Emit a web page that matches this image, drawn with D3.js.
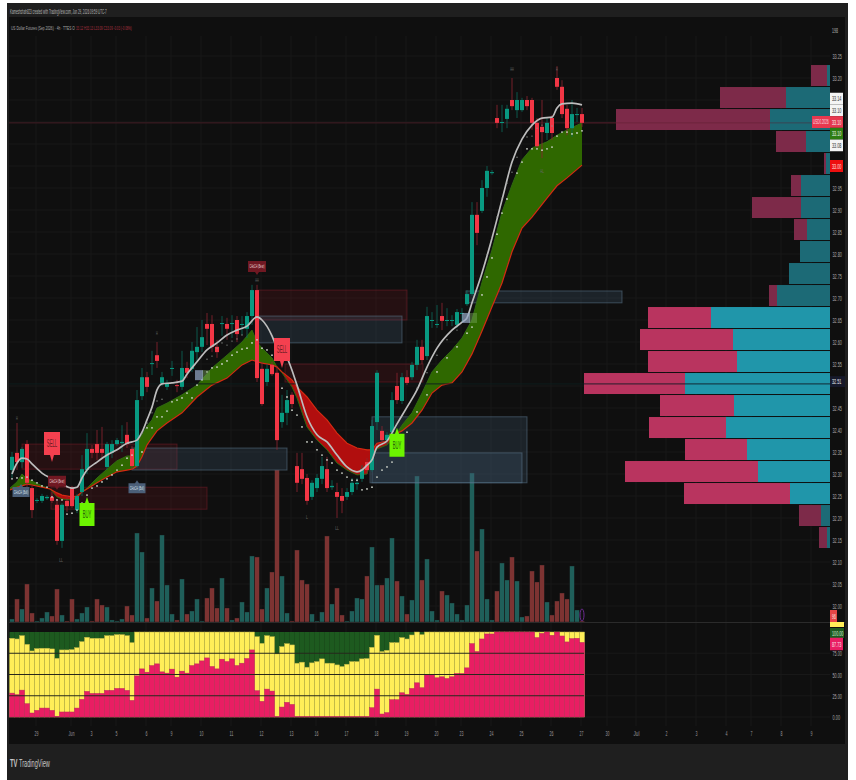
<!DOCTYPE html>
<html>
<head>
<meta charset="utf-8">
<script src="https://cdn.jsdelivr.net/npm/d3@7"></script>
<style>
  html, body { margin: 0; padding: 0; background: #fff; }
  svg { display: block; }
  text { font-family: "Liberation Sans", Arial, sans-serif; }
</style>
</head>
<body>
<div class="chart"></div>
<script>
// candles (one per 4h bar)
const opens = [32.309,32.348,32.327,32.368,32.268,32.239,32.239,32.245,32.248,32.230,
  32.148,32.239,32.268,32.218,32.259,32.309,32.357,32.368,32.357,32.316,
  32.348,32.368,32.370,32.389,32.357,32.318,32.477,32.520,32.550,32.570,
  32.507,32.498,32.539,32.502,32.498,32.541,32.539,32.577,32.589,32.641,
  32.641,32.589,32.641,32.641,32.641,32.650,32.639,32.630,32.659,32.718,
  32.539,32.509,32.548,32.530,32.418,32.439,32.480,32.318,32.311,32.291,
  32.248,32.268,32.289,32.311,32.270,32.259,32.250,32.248,32.259,32.277,
  32.289,32.327,32.309,32.418,32.398,32.377,32.395,32.500,32.466,32.520,
  32.520,32.548,32.589,32.568,32.648,32.639,32.659,32.648,32.648,32.639,
  32.664,32.686,32.709,32.889,32.898,32.950,32.984,33.109,33.098,33.107,
  33.150,33.127,33.127,33.150,33.150,33.098,33.089,33.075,33.109,33.200,
  33.180,33.130,33.086,33.116,33.118];
const highs = [32.350,32.416,32.361,32.377,32.273,32.245,32.255,32.252,32.259,32.241,
  32.234,32.250,32.273,32.255,32.343,32.393,32.366,32.400,32.407,32.373,
  32.377,32.382,32.411,32.418,32.364,32.491,32.541,32.532,32.580,32.600,
  32.532,32.514,32.557,32.514,32.580,32.555,32.600,32.634,32.650,32.666,
  32.661,32.605,32.659,32.655,32.661,32.659,32.659,32.668,32.730,32.730,
  32.555,32.550,32.555,32.545,32.480,32.491,32.486,32.348,32.348,32.300,
  32.286,32.300,32.339,32.339,32.286,32.280,32.268,32.268,32.291,32.291,
  32.320,32.336,32.423,32.536,32.409,32.395,32.486,32.530,32.530,32.536,
  32.555,32.605,32.605,32.680,32.668,32.684,32.689,32.677,32.661,32.675,
  32.677,32.718,32.918,32.918,32.968,33.000,32.991,33.139,33.139,33.139,
  33.200,33.168,33.155,33.159,33.155,33.109,33.150,33.109,33.116,33.227,
  33.195,33.139,33.150,33.132,33.132];
const lows = [32.291,32.309,32.314,32.264,32.200,32.234,32.234,32.241,32.234,32.139,
  32.132,32.214,32.223,32.211,32.250,32.300,32.336,32.332,32.336,32.309,
  32.336,32.364,32.350,32.359,32.309,32.314,32.468,32.486,32.525,32.541,
  32.500,32.491,32.523,32.486,32.491,32.518,32.532,32.555,32.577,32.593,
  32.577,32.564,32.614,32.605,32.609,32.600,32.616,32.609,32.639,32.509,
  32.455,32.500,32.523,32.355,32.405,32.411,32.450,32.259,32.277,32.230,
  32.241,32.259,32.277,32.259,32.264,32.200,32.211,32.241,32.252,32.264,
  32.282,32.300,32.305,32.400,32.370,32.368,32.386,32.459,32.459,32.502,
  32.514,32.536,32.550,32.559,32.632,32.632,32.627,32.636,32.636,32.632,
  32.645,32.682,32.705,32.820,32.893,32.930,32.980,33.086,33.077,33.086,
  33.127,33.109,33.123,33.127,33.082,33.041,33.018,33.059,33.059,33.173,
  33.109,33.070,33.066,33.100,33.089];
const closes = [32.339,32.327,32.357,32.280,32.218,32.241,32.250,32.248,32.239,32.148,
  32.230,32.227,32.227,32.250,32.311,32.357,32.348,32.348,32.348,32.368,
  32.368,32.377,32.373,32.368,32.318,32.468,32.520,32.498,32.552,32.557,
  32.520,32.507,32.541,32.500,32.541,32.530,32.580,32.589,32.611,32.630,
  32.589,32.577,32.643,32.630,32.643,32.618,32.641,32.659,32.718,32.518,
  32.459,32.539,32.527,32.377,32.439,32.468,32.459,32.280,32.289,32.239,
  32.280,32.291,32.318,32.268,32.273,32.248,32.239,32.259,32.280,32.280,
  32.311,32.309,32.409,32.530,32.377,32.389,32.468,32.468,32.520,32.507,
  32.548,32.589,32.559,32.659,32.650,32.641,32.648,32.650,32.650,32.668,
  32.666,32.709,32.889,32.848,32.950,32.989,32.986,33.098,33.100,33.130,
  33.136,33.150,33.150,33.136,33.098,33.045,33.077,33.098,33.075,33.180,
  33.118,33.086,33.118,33.118,33.098];
const volumes = [3,23,13,38,9,1,4,10,6,33,7,1,23,3,9,15,1,23,17,15,2,1,3,16,7,89,70,4,34,21,87,37,8,2,43,8,11,23,1,24,
  34,14,44,14,2,4,20,10,66,65,13,34,50,152,46,9,1,72,42,38,8,1,10,86,18,34,7,1,11,24,23,46,75,37,37,44,84,41,26,8,
  22,146,42,63,11,2,31,27,19,8,2,17,149,71,93,23,2,31,59,42,65,41,5,6,51,40,57,20,7,21,29,23,56,12,1];

// white moving average, read at the bars where it bends
const maIdx = [0,1,2,3,4,6,8,10,12,13,14,15,17,19,21,23,24,25,26,27,28,29,30,32,34,35,37,39,41,43,45,47,49,50,52,53,55,57,59,61,63,65,67,69,70,71,72,73,75,77,79,81,83,85,88,90,91,92,94,96,98,100,102,104,106,108,109,110,112,114];
const maVal = [32.300,32.325,32.336,32.334,32.323,32.302,32.289,32.277,32.268,32.270,32.291,32.309,32.327,32.343,32.355,32.370,32.373,32.377,32.395,32.423,32.452,32.491,32.505,32.507,32.511,32.527,32.555,32.582,32.598,32.616,32.627,32.636,32.657,32.650,32.614,32.586,32.564,32.502,32.430,32.389,32.373,32.343,32.316,32.305,32.309,32.320,32.332,32.361,32.375,32.414,32.452,32.491,32.543,32.586,32.627,32.645,32.655,32.689,32.757,32.836,32.923,33.009,33.061,33.093,33.109,33.111,33.132,33.141,33.143,33.139];

// ribbon: fast and slow edge at the same bars
const ribbonIdx = [-0.4,1,2,3,4,6,7.6,9,10,12,13,14,15,17,19,21,23,24,25,26,27,28,29,31,34,37,40,43,46,48,49,50,52,53,54,56,57,59,61,63,65,67,69,71,72,73,75,77,78,80,82,84,86,88,90,92,94,96,98,100,102,104,107,109,111,114];
const ribbonFast = [32.268,32.282,32.300,32.289,32.284,32.273,32.266,32.248,32.243,32.241,32.245,32.259,32.268,32.291,32.311,32.330,32.341,32.341,32.370,32.389,32.409,32.423,32.450,32.461,32.480,32.502,32.541,32.570,32.600,32.627,32.600,32.586,32.564,32.543,32.530,32.498,32.473,32.407,32.377,32.355,32.325,32.309,32.298,32.300,32.339,32.357,32.366,32.393,32.411,32.439,32.484,32.532,32.559,32.582,32.609,32.650,32.736,32.809,32.895,32.957,33.014,33.041,33.055,33.070,33.082,33.098];
const ribbonSlow = [32.264,32.270,32.273,32.277,32.275,32.270,32.266,32.257,32.252,32.248,32.250,32.259,32.266,32.280,32.293,32.305,32.309,32.311,32.318,32.339,32.366,32.382,32.398,32.416,32.439,32.475,32.502,32.518,32.548,32.559,32.555,32.552,32.548,32.543,32.532,32.514,32.498,32.475,32.445,32.423,32.393,32.370,32.359,32.355,32.355,32.370,32.375,32.393,32.398,32.416,32.445,32.484,32.502,32.507,32.532,32.573,32.625,32.680,32.734,32.805,32.859,32.884,32.927,32.955,32.973,33.002];

// small dots
const dotIdx = [0,1,2,3,4,5,6,7,8,9,10,11,12,13,14,15,16,17,18,19,20,21,22,23,24,26,27,28,29,30,31,32,33,34,35,36,37,38,39,40,41,42,43,44,45,46,47,48,49,50,51,52,53,54,55,56,57,58,59,60,61,62,63,64,65,66,67,68,69,70,71,72,73,74,75,76,79,81,83,85,87,89,91,92,94,95,96,97,98,99,101,102,103,104,105,106,107,108,109,110,111,112,113,114];
const dotVal = [32.289,32.291,32.291,32.293,32.286,32.280,32.273,32.270,32.248,32.241,32.241,32.209,32.211,32.218,32.234,32.252,32.268,32.273,32.282,32.289,32.298,32.309,32.320,32.336,32.343,32.350,32.405,32.405,32.430,32.430,32.443,32.464,32.468,32.473,32.484,32.473,32.502,32.514,32.532,32.541,32.543,32.550,32.557,32.570,32.577,32.584,32.586,32.598,32.605,32.586,32.582,32.570,32.559,32.495,32.475,32.445,32.434,32.407,32.373,32.373,32.355,32.343,32.332,32.325,32.309,32.302,32.293,32.286,32.286,32.264,32.266,32.270,32.293,32.309,32.316,32.327,32.395,32.441,32.480,32.532,32.564,32.589,32.620,32.634,32.707,32.748,32.791,32.845,32.893,32.925,32.984,33.009,33.039,33.039,33.039,33.036,33.039,33.043,33.068,33.077,33.077,33.073,33.075,33.080];
const dimDotIdx = [26,27,28,29,30,39,40,41,42,43,44,45,46,81,83,85,87,89,91,95,96,97,98,99,100,101,103,104,105,106,108];
const dimDotVal = [32.393,32.416,32.439,32.466,32.470,32.561,32.568,32.586,32.598,32.593,32.602,32.607,32.616,32.495,32.530,32.570,32.605,32.627,32.655,32.798,32.836,32.884,32.927,32.961,32.986,33.020,33.066,33.068,33.086,33.093,33.091];

// supply / demand zones [from bar, to bar, top price, bottom price]
const redZones = [[2,33,32.368,32.311],[7.8,39,32.270,32.220],[49.2,79,32.718,32.650],[54.6,82.2,32.550,32.509]];
const blueZones = [[24,55,32.359,32.309],[49.2,78,32.659,32.598],[90.8,122,32.716,32.689],[72,103,32.430,32.280],[71.6,102,32.348,32.280]];

// signals [bar, price at the tip]
const sellSignals = [[8,32.327],[54,32.541]];
const buySignals = [[15,32.248],[77,32.405]];
const bearTags = [[9,32.264],[49,32.752]];
const bullTags = [[1.8,32.277],[25,32.286]];
const fadedTags = [[37.4,32.536],[90.8,32.666]];
const pivotLabels = [[1,32.427,'H'],[9.8,32.105,'LL'],[29,32.620,'H'],[49,32.741,'HH'],[59,32.202,'L'],[65,32.177,'LL'],[100,33.220,'HH'],[109,33.220,'H'],[106,32.989,'HL']];

// volume profile rows, top to bottom
const profileUp = [3,44,60,24,4,29,29,23,30,41,53,119,97,93,145,96,104,83,72,40,9,3];
const profileDown = [16,66,154,30,2,10,49,13,0,0,8,63,93,89,101,74,77,62,133,106,22,8];
const profileBright = [11,12,13,14,15,16,17,18,19];

// lower pane, percent
const yellowTop = [92.6,91.8,95.7,85.5,77.7,80.5,80.9,80.9,80.1,69.1,78.9,78.9,79.3,81.6,88.7,93.8,92.6,92.6,92.6,95.7,95.7,96.9,96.9,95.7,87.5,
  100,100,100,100,100,100,100,100,100,100,100,100,100,100,100,100,100,100,100,100,100,100,100,100,
  94.5,86.7,95.7,94.5,74.2,82.8,86.3,84.8,63.3,
  64.5,58.6,63.7,65.2,68.4,63.3,63.3,61.3,59.4,62.1,65.2,65.2,68.4,68.8,
  82,96.1,77,78.5,87.5,87.5,93.4,91.8,96.5,100,96.9,
  100,100,100,100,100,100,100,100,100,100,100,100,100,100,100,100,100,100,100,100,100,100,100,100,100,100,100,100,100,100,100,100];
const pinkTop = [28.1,26.2,31.6,15.6,4.7,7.8,10.5,10.5,7.8,0.8,5.9,5.9,5.9,10.5,20.7,30.1,27.7,27.7,27.7,31.3,31.3,33.6,33.6,31.3,19.5,
  48.4,56.6,52.7,60.5,62.5,53.1,51.6,56.3,46.9,53.9,51.6,60.5,62.5,66,69.5,59.4,56.6,68,65.2,68.4,60.5,63.3,68.8,78.9,
  30.9,18.4,32.8,30.5,0.4,11.7,17.2,14.8,0.4,
  0.4,0.4,0.4,0.4,0.4,0.4,0.4,0.4,0.4,0.4,0.4,0.4,0.4,0.4,
  10.9,32.8,3.5,5.1,20.3,20.3,28.5,26.6,33.6,40.2,34.4,50,50,46.1,47.3,45.3,47.3,51.2,51.2,57.8,86.3,77,91.8,97.7,97.7,
  100,100,100,100,100,100,100,100,93.4,98.4,100,96.1,100,95.3,88.3,92.2,92.6,87.7];

// axis labels
const priceTicks = [33.25,33.20,32.95,32.90,32.85,32.80,32.75,32.70,32.65,32.60,32.55,32.45,32.40,32.35,32.30,32.25,32.20,32.15,32.10,32.05,32.00];
const percentTicks = [75,50,25,0];
const timeTickIdx = [4.8,11.8,15.8,20.8,26.8,31.8,37.8,43.8,49.8,55.8,60.8,66.8,72.8,78.8,84.8,89.8,95.8,101.8,107.8,113.8,119,124.8,130.8,136.8,142.8,147.8,153.8,159.8];
const timeTickLabels = ['29','Jun','3','5','6','9','10','11','12','13','16','17','18','19','20','23','24','25','26','27','30','Jul','2','3','4','7','8','9'];
const priceStack = ['33.14','33.10','33.10','33.10','33.08'];
const priceStackColors = ['#f4f4f4','#f4f4f4','#e8384f','#2e7d12','#f4f4f4'];

const upColor = '#089981', downColor = '#f23645';

const svg = d3.select('.chart').append('svg').attr('width', 856).attr('height', 780);

// frame
svg.append('rect').attr('x', 7).attr('y', 3).attr('width', 841).attr('height', 777).attr('fill', '#1f1f1f');
svg.append('rect').attr('x', 9).attr('y', 17).attr('width', 836).attr('height', 727).attr('fill', '#0f0f0f');

const xBar = d3.scaleLinear().domain([0, 114]).range([12, 582]);
const yPrice = d3.scaleLinear().domain([32, 33.2]).range([606, 78]);
const yVol = d3.scaleLinear().domain([0, 155]).range([622, 467]);
const yPct = d3.scaleLinear().domain([0, 100]).range([717, 632]);
const xProfile = d3.scaleLinear().domain([0, 246]).range([830, 584]);

// the reference is squeezed sideways, so labels are scaled to a forced width
function fit(sel, width) {
  sel.each(function() {
    const natural = this.getComputedTextLength();
    const k = (typeof width === 'function' ? width(this) : width) / natural;
    const x = +this.getAttribute('x') || 0;
    this.setAttribute('transform', `translate(${x},0) scale(${k},1) translate(${-x},0)`);
  });
}
function squeeze(sel, perChar) {
  fit(sel, el => el.textContent.length * perChar);
}

svg.append('clipPath').attr('id', 'pane').append('rect')
  .attr('x', 9).attr('y', 17).attr('width', 821).attr('height', 605);

// grid
const grid = svg.append('g').attr('stroke', '#181818').attr('stroke-width', 1);
grid.selectAll('.gv').data(timeTickIdx).enter().append('line')
  .attr('x1', d => xBar(d)).attr('x2', d => xBar(d)).attr('y1', 36).attr('y2', 726);
grid.selectAll('.gh').data(priceTicks.concat([33.15,33.10,33.05,33.00,32.50])).enter().append('line')
  .attr('x1', 9).attr('x2', 830).attr('y1', d => yPrice(d)).attr('y2', d => yPrice(d));
grid.selectAll('.gp').data(percentTicks).enter().append('line')
  .attr('x1', 584).attr('x2', 830).attr('y1', d => yPct(d)).attr('y2', d => yPct(d));

const pane = svg.append('g').attr('clip-path', 'url(#pane)');

// volume
pane.selectAll('.vol').data(volumes).enter().append('rect')
  .attr('x', (d, i) => xBar(i) - 2.3)
  .attr('width', 4.6)
  .attr('y', d => yVol(d))
  .attr('height', d => yVol(0) - yVol(d))
  .attr('fill', (d, i) => closes[i] >= opens[i] ? '#1f5f5a' : '#7d3332')
  .attr('stroke', '#1a1a1a').attr('stroke-width', 0.4);

// zones
function drawZones(zones, fill, stroke) {
  pane.selectAll(null).data(zones).enter().append('rect')
    .attr('x', d => xBar(d[0]))
    .attr('width', d => xBar(d[1]) - xBar(d[0]))
    .attr('y', d => yPrice(d[2]))
    .attr('height', d => yPrice(d[3]) - yPrice(d[2]))
    .attr('fill', fill).attr('stroke', stroke).attr('stroke-width', 1);
}
drawZones(redZones, 'rgba(120,22,34,0.22)', 'rgba(135,32,45,0.45)');
drawZones(blueZones, 'rgba(70,100,125,0.24)', 'rgba(95,125,150,0.5)');

// last price line
pane.append('line').attr('x1', 9).attr('x2', 830)
  .attr('y1', yPrice(33.098)).attr('y2', yPrice(33.098))
  .attr('stroke', '#431c24').attr('stroke-width', 1);

// ribbon: one area per stretch between two crossings
const ribbonRows = ribbonIdx.map((d, i) => ({i: d, fast: ribbonFast[i], slow: ribbonSlow[i]}));
const runs = [];
let run = [];
ribbonRows.forEach((d) => {
  run.push(d);
  if (d.fast === d.slow && run.length > 1) {
    runs.push(run);
    run = [d];
  }
});
runs.push(run);
const ribbonArea = d3.area().x(d => xBar(d.i)).y0(d => yPrice(d.slow)).y1(d => yPrice(d.fast));
pane.selectAll('.ribbon').data(runs).enter().append('path')
  .attr('d', ribbonArea)
  .attr('fill', d => {
    const m = d[Math.floor(d.length / 2)];
    return m.fast >= m.slow ? '#2f6800' : '#b10e0e';
  });
const edge = d3.line().x(d => xBar(d.i));
pane.append('path').attr('d', edge.y(d => yPrice(d.fast))(ribbonRows))
  .attr('fill', 'none').attr('stroke', '#2f6a10').attr('stroke-width', 1);
pane.append('path').attr('d', edge.y(d => yPrice(d.slow))(ribbonRows))
  .attr('fill', 'none').attr('stroke', '#d42a12').attr('stroke-width', 1.2);

// point of control, only shows over the marks
pane.append('line').attr('x1', 9).attr('x2', 830)
  .attr('y1', yPrice(32.505)).attr('y2', yPrice(32.505))
  .attr('stroke', 'rgba(14,30,30,0.75)').attr('stroke-width', 1.2);

// candles
pane.selectAll('.wick').data(opens).enter().append('line')
  .attr('x1', (d, i) => xBar(i)).attr('x2', (d, i) => xBar(i))
  .attr('y1', (d, i) => yPrice(highs[i])).attr('y2', (d, i) => yPrice(lows[i]))
  .attr('stroke', (d, i) => closes[i] >= opens[i] ? '#0a6a5c' : '#8f2530')
  .attr('stroke-width', 0.8);
pane.selectAll('.body').data(opens).enter().append('rect')
  .attr('x', (d, i) => xBar(i) - 2)
  .attr('width', 4)
  .attr('y', (d, i) => yPrice(Math.max(opens[i], closes[i])))
  .attr('height', (d, i) => Math.max(1, Math.abs(yPrice(opens[i]) - yPrice(closes[i]))))
  .attr('fill', (d, i) => closes[i] >= opens[i] ? upColor : downColor);

// moving average and dots
const maLine = d3.line().x(d => xBar(d[0])).y(d => yPrice(d[1])).curve(d3.curveMonotoneX);
pane.append('path').attr('d', maLine(maIdx.map((d, i) => [d, maVal[i]])))
  .attr('fill', 'none').attr('stroke', '#bdbdbd').attr('stroke-width', 1.7);
pane.selectAll('.dot').data(dotIdx).enter().append('circle')
  .attr('cx', d => xBar(d)).attr('cy', (d, i) => yPrice(dotVal[i])).attr('r', 0.9)
  .attr('fill', '#cfd4cb');
pane.selectAll('.dim').data(dimDotIdx).enter().append('circle')
  .attr('cx', d => xBar(d)).attr('cy', (d, i) => yPrice(dimDotVal[i])).attr('r', 0.7)
  .attr('fill', '#8f948f');

// labels on the chart
function calloutDown(list, w, h, gap, fill, label, textFill, fs, perChar) {
  list.forEach(d => {
    const x = xBar(d[0]), tip = yPrice(d[1]);
    const g = svg.append('g');
    g.append('path').attr('fill', fill)
      .attr('d', `M${x-w/2},${tip-gap-h}h${w}v${h}h${-w/2+2}l-2,${gap}l-2,${-gap}h${-w/2+2}z`);
    g.append('text').attr('x', x).attr('y', tip - gap - h / 2 + fs * 0.35)
      .attr('text-anchor', 'middle').attr('font-size', fs).attr('fill', textFill).text(label)
      .call(squeeze, perChar);
  });
}
function calloutUp(list, w, h, gap, fill, label, textFill, fs, perChar) {
  list.forEach(d => {
    const x = xBar(d[0]), tip = yPrice(d[1]);
    const g = svg.append('g');
    g.append('path').attr('fill', fill)
      .attr('d', `M${x-w/2},${tip+gap}h${w/2-2}l2,${-gap}l2,${gap}h${w/2-2}v${h}h${-w}z`);
    g.append('text').attr('x', x).attr('y', tip + gap + h / 2 + fs * 0.35)
      .attr('text-anchor', 'middle').attr('font-size', fs).attr('fill', textFill).text(label)
      .call(squeeze, perChar);
  });
}
calloutDown(sellSignals, 16, 23, 7, '#f4404f', 'SELL', '#6d1c24', 11, 2.6);
calloutUp(buySignals, 15, 23, 6, '#6cf400', 'BUY', '#24580a', 11, 2.8);
calloutDown(bearTags, 18, 11, 3, '#701822', 'CHoCH (Bear)', '#e8d8d8', 5, 1.25);
calloutUp(bullTags, 17, 10, 3, '#4b5f78', 'CHoCH (Bull)', '#dde3ea', 5, 1.2);

fadedTags.forEach(d => {
  const x = xBar(d[0]), y = yPrice(d[1]);
  svg.append('rect').attr('x', x + 3).attr('y', y).attr('width', 8).attr('height', 10).attr('fill', 'rgba(120,165,90,0.45)');
  svg.append('rect').attr('x', x - 4).attr('y', y).attr('width', 8).attr('height', 10).attr('fill', 'rgba(150,170,200,0.7)');
});

svg.selectAll('.pivot').data(pivotLabels).enter().append('text')
  .attr('x', d => xBar(d[0])).attr('y', d => yPrice(d[1]) + 2)
  .attr('text-anchor', 'middle').attr('font-size', 5).attr('fill', '#666')
  .text(d => d[2]).call(squeeze, 1.8);

// purple session mark
svg.append('ellipse').attr('cx', 582).attr('cy', 615).attr('rx', 2).attr('ry', 6)
  .attr('fill', 'none').attr('stroke', '#6b2b8f').attr('stroke-width', 1);

// volume profile
const rowStep = 0.05, rowTop = 33.2295;
const rowY = i => yPrice(rowTop - rowStep * i);
const rowH = yPrice(0) - yPrice(rowStep);
const prof = svg.append('g');
prof.selectAll('.up').data(profileUp).enter().append('rect')
  .attr('x', d => xProfile(d))
  .attr('width', d => xProfile(0) - xProfile(d))
  .attr('y', (d, i) => rowY(i))
  .attr('height', rowH - 1)
  .attr('fill', (d, i) => profileBright.includes(i) ? '#2096aa' : '#1c6a76');
prof.selectAll('.down').data(profileDown).enter().append('rect')
  .attr('x', (d, i) => xProfile(d + profileUp[i]))
  .attr('width', (d, i) => xProfile(profileUp[i]) - xProfile(d + profileUp[i]))
  .attr('y', (d, i) => rowY(i))
  .attr('height', rowH - 1)
  .attr('fill', (d, i) => profileBright.includes(i) ? '#b9345f' : '#7d2a49');
prof.append('line').attr('x1', xProfile(246)).attr('x2', 830)
  .attr('y1', yPrice(32.505)).attr('y2', yPrice(32.505))
  .attr('stroke', 'rgba(15,25,35,0.7)').attr('stroke-width', 1.2);
prof.append('line').attr('x1', 584).attr('x2', 830)
  .attr('y1', yPrice(33.098)).attr('y2', yPrice(33.098))
  .attr('stroke', 'rgba(90,30,45,0.6)').attr('stroke-width', 0.8);

// pane divider
svg.append('line').attr('x1', 9).attr('x2', 845).attr('y1', 622.5).attr('y2', 622.5)
  .attr('stroke', '#2b2b2b').attr('stroke-width', 1);

// lower pane: green behind, then yellow, then pink
const lower = svg.append('g');
lower.selectAll('.gr').data(yellowTop).enter().append('rect')
  .attr('x', (d, i) => xBar(i) - 2.5).attr('width', 5.2)
  .attr('y', yPct(100)).attr('height', d => yPct(0) - yPct(100))
  .attr('fill', '#1d5a1f');
lower.selectAll('.ye').data(yellowTop).enter().append('rect')
  .attr('x', (d, i) => xBar(i) - 2.5).attr('width', 5)
  .attr('y', d => yPct(d)).attr('height', d => yPct(0) - yPct(d))
  .attr('fill', '#ffee58').attr('stroke', '#b5ab45').attr('stroke-width', 0.5);
lower.selectAll('.pi').data(pinkTop).enter().append('rect')
  .attr('x', (d, i) => xBar(i) - 2.5).attr('width', 5)
  .attr('y', d => yPct(d)).attr('height', d => yPct(0) - yPct(d))
  .attr('fill', '#e91e63').attr('stroke', '#b82a5c').attr('stroke-width', 0.5);
lower.selectAll('.hl').data(percentTicks.slice(0, 3)).enter().append('line')
  .attr('x1', 9).attr('x2', 584).attr('y1', d => yPct(d)).attr('y2', d => yPct(d))
  .attr('stroke', '#26281c').attr('stroke-width', 1);

// right scales
const priceAxis = d3.axisRight(yPrice).tickValues(priceTicks).tickSize(0).tickFormat(d3.format('.2f'));
const gPrice = svg.append('g').attr('transform', 'translate(831,0)').call(priceAxis);
const pctAxis = d3.axisRight(yPct).tickValues(percentTicks).tickSize(0).tickFormat(d3.format('.2f'));
const gPct = svg.append('g').attr('transform', 'translate(831,0)').call(pctAxis);
[gPrice, gPct].forEach(g => {
  g.select('.domain').remove();
  g.selectAll('text').attr('x', 1.5).attr('font-size', 8).attr('fill', '#a8a8a8')
    .style('font-family', '"Liberation Sans", Arial, sans-serif')
    .call(squeeze, 1.9);
});

function badge(y, w, h, fill, label, textFill) {
  svg.append('rect').attr('x', 830).attr('y', y - h / 2).attr('width', w).attr('height', h).attr('fill', fill);
  if (label) {
    svg.append('text').attr('x', 832).attr('y', y + 2.8).attr('font-size', 8).attr('fill', textFill)
      .text(label).call(squeeze, 1.9);
  }
}
const stackStep = 11.7;
priceStack.forEach((d, i) => {
  const light = priceStackColors[i] === '#f4f4f4';
  badge(yPrice(33.10) + (i - 2) * stackStep, 13, stackStep, priceStackColors[i], d, light ? '#333' : '#f4f4f4');
});
badge(yPrice(33.00), 13, 12, '#ee0f0f', '33.00', '#ffe0e0');
badge(yPrice(32.51), 15, 11, '#16192a', '32.51', '#e8e8f0');
svg.append('rect').attr('x', 812).attr('y', yPrice(33.10) - 6).attr('width', 18).attr('height', 12).attr('fill', '#e8384f');
svg.append('text').attr('x', 813).attr('y', yPrice(33.10) + 2.5).attr('font-size', 7).attr('fill', '#f6dfe2')
  .text('USD0.2026').call(squeeze, 1.75);

badge(616, 7, 12, '#e54646', '96', '#fbe4e4');
badge(624.5, 14, 5, '#ffee58', '', '');
badge(633, 14, 10, '#1d5a1f', '100.00', '#d6e6d6');
badge(644, 13, 12.5, '#e91e63', '87.73', '#fbe0ea');

svg.append('text').attr('x', 832).attr('y', 33).attr('font-size', 8).attr('fill', '#b0b0b0')
  .text('198').call(squeeze, 2);

// time axis
const timeAxis = d3.axisBottom(xBar).tickValues(timeTickIdx).tickSize(0)
  .tickFormat((d, i) => timeTickLabels[i]);
const gTime = svg.append('g').attr('transform', 'translate(0,729)').call(timeAxis);
gTime.select('.domain').remove();
gTime.selectAll('text').attr('font-size', 8).attr('fill', '#989898')
  .style('font-family', '"Liberation Sans", Arial, sans-serif').attr('dy', '0.55em')
  .call(squeeze, 2);

// header, legend and logo
svg.append('text').attr('x', 10).attr('y', 14).attr('font-size', 6.5).attr('fill', '#b8b8b8')
  .text('Kameshshah823 created with TradingView.com, Jun 29, 2026 09:59 UTC-7').call(fit, 97);
svg.append('text').attr('x', 11).attr('y', 30).attr('font-size', 6).attr('fill', '#a8a8a8')
  .text('US Dollar Futures (Sep 2026) · 4h · TTES O').call(fit, 64);
svg.append('text').attr('x', 76).attr('y', 30).attr('font-size', 6).attr('fill', '#a8303f')
  .text('33.12 H33.13 L33.09 C33.09 -0.03 (-0.08%)').call(fit, 56);

svg.append('text').attr('x', 10).attr('y', 767).attr('font-size', 11).attr('font-weight', 'bold').attr('fill', '#c8c8c8')
  .text('TV').call(fit, 7.5);
svg.append('text').attr('x', 19).attr('y', 767).attr('font-size', 11).attr('fill', '#c8c8c8')
  .text('TradingView').call(fit, 31);
</script>
</body>
</html>
